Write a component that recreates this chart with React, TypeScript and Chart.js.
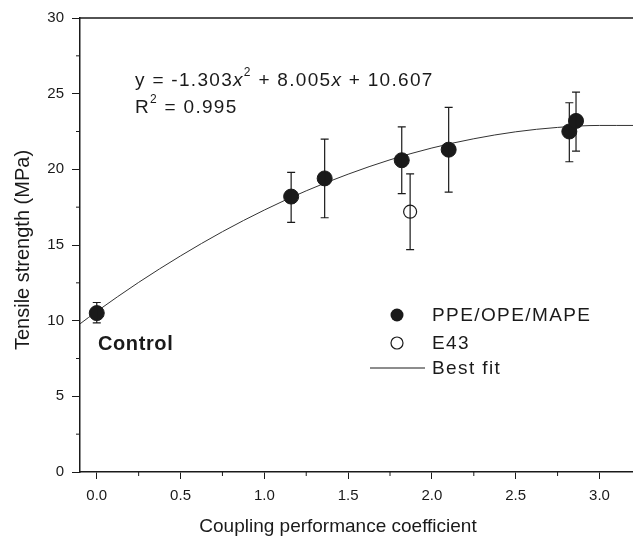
import React, { useEffect, useRef } from "react";
import { Chart, registerables } from "chart.js";
Chart.register(...registerables);

// Filled points (PPE/OPE/MAPE)
const ppeX = [0.0, 1.16, 1.36, 1.82, 2.1, 2.82, 2.86];
const ppeY = [10.5, 18.2, 19.4, 20.6, 21.3, 22.5, 23.2];
const ppeHi = [11.2, 19.8, 22.0, 22.8, 24.1, 24.4, 25.1];
const ppeLo = [9.85, 16.5, 16.8, 18.4, 18.5, 20.5, 21.2];
// Open point (E43)
const e43X = [1.87];
const e43Y = [17.2];
const e43Hi = [19.7];
const e43Lo = [14.7];
// Best fit curve
const fitX = [-0.1, 0, 0.25, 0.5, 0.75, 1.0, 1.25, 1.5, 1.75, 2.0, 2.25, 2.5, 2.75, 3.0, 3.1, 3.2];
const fitY = [9.79, 10.61, 12.53, 14.28, 15.88, 17.31, 18.58, 19.68, 20.63, 21.41, 22.02, 22.48, 22.77, 22.9, 22.9, 22.9];
const xTicks = [0, 0.5, 1.0, 1.5, 2.0, 2.5, 3.0];
const yTicks = [0, 5, 10, 15, 20, 25, 30];

const FONT = "'Liberation Sans', Arial, sans-serif";
const INK = "#1a1a1a";

const overlay = {
  id: "overlay",
  afterDatasetsDraw(chart: any) {
    const ctx = chart.ctx;
    const xs = chart.scales.x;
    const ys = chart.scales.y;
    const ca = chart.chartArea;
    ctx.save();
    // top frame line
    ctx.strokeStyle = INK;
    ctx.lineWidth = 1.5;
    ctx.beginPath();
    ctx.moveTo(ca.left, ca.top);
    ctx.lineTo(chart.width, ca.top);
    ctx.stroke();
    // minor ticks
    ctx.lineWidth = 1;
    for (let v = 0.25; v < 3.2; v += 0.5) {
      const px = xs.getPixelForValue(v);
      ctx.beginPath();
      ctx.moveTo(px, ca.bottom);
      ctx.lineTo(px, ca.bottom + 4);
      ctx.stroke();
    }
    for (let v = 2.5; v < 30; v += 5) {
      const py = ys.getPixelForValue(v);
      ctx.beginPath();
      ctx.moveTo(ca.left, py);
      ctx.lineTo(ca.left - 4, py);
      ctx.stroke();
    }
    // error bars
    const drawErr = (x: number, lo: number, hi: number) => {
      const px = xs.getPixelForValue(x);
      const pLo = ys.getPixelForValue(lo);
      const pHi = ys.getPixelForValue(hi);
      ctx.beginPath();
      ctx.moveTo(px, pLo);
      ctx.lineTo(px, pHi);
      ctx.moveTo(px - 4, pLo);
      ctx.lineTo(px + 4, pLo);
      ctx.moveTo(px - 4, pHi);
      ctx.lineTo(px + 4, pHi);
      ctx.stroke();
    };
    ctx.strokeStyle = INK;
    ctx.lineWidth = 1.2;
    ppeX.forEach((x, i) => drawErr(x, ppeLo[i], ppeHi[i]));
    e43X.forEach((x, i) => drawErr(x, e43Lo[i], e43Hi[i]));
    ctx.restore();
  },
  afterDraw(chart: any) {
    const ctx = chart.ctx;
    ctx.save();
    ctx.fillStyle = INK;
    ctx.textBaseline = "middle";
    ctx.textAlign = "left";
    // equation
    ctx.letterSpacing = "1.3px";
    let x = 135;
    const y = 81;
    const seg = (t: string, style: string, dy = 0, size = 19) => {
      ctx.font = `${style} ${size}px ${FONT}`;
      ctx.fillText(t, x, y + dy);
      x += ctx.measureText(t).width;
    };
    seg("y = -1.303", "normal");
    seg("x", "italic");
    seg("2", "normal", -8, 12);
    seg(" + 8.005", "normal");
    seg("x", "italic");
    seg(" + 10.607", "normal");
    x = 135;
    const y2 = 108;
    ctx.font = `normal 19px ${FONT}`;
    ctx.fillText("R", x, y2);
    x += ctx.measureText("R").width;
    ctx.font = `normal 12px ${FONT}`;
    ctx.fillText("2", x, y2 - 8);
    x += ctx.measureText("2").width;
    ctx.font = `normal 19px ${FONT}`;
    ctx.fillText(" = 0.995", x, y2);
    // Control label
    ctx.letterSpacing = "0.6px";
    ctx.font = `bold 20px ${FONT}`;
    ctx.fillText("Control", 98, 344);
    // legend
    ctx.letterSpacing = "1.4px";
    ctx.font = `normal 19px ${FONT}`;
    ctx.strokeStyle = INK;
    ctx.fillStyle = INK;
    ctx.beginPath();
    ctx.arc(397, 315, 6.5, 0, Math.PI * 2);
    ctx.fill();
    ctx.fillText(chart.data.datasets[0].label, 432, 316);
    ctx.beginPath();
    ctx.arc(397, 343, 6, 0, Math.PI * 2);
    ctx.fillStyle = "#fff";
    ctx.fill();
    ctx.lineWidth = 1.2;
    ctx.stroke();
    ctx.fillStyle = INK;
    ctx.fillText(chart.data.datasets[1].label, 432, 344);
    ctx.lineWidth = 1;
    ctx.beginPath();
    ctx.moveTo(370, 368);
    ctx.lineTo(425, 368);
    ctx.stroke();
    ctx.fillText(chart.data.datasets[2].label, 432, 369);
    // axis titles
    ctx.letterSpacing = "0px";
    ctx.font = `normal 19px ${FONT}`;
    ctx.textAlign = "center";
    ctx.fillText("Coupling performance coefficient", 338, 527);
    ctx.save();
    ctx.translate(23, 250);
    ctx.rotate(-Math.PI / 2);
    ctx.font = `normal 20px ${FONT}`;
    ctx.fillText("Tensile strength (MPa)", 0, 0);
    ctx.restore();
    ctx.restore();
  },
};

export default function App() {
  const ref = useRef<HTMLCanvasElement>(null);
  useEffect(() => {
    document.body.style.margin = "0";
    const chart = new Chart(ref.current!, {
      type: "scatter",
      data: {
        datasets: [
          {
            label: "PPE/OPE/MAPE",
            data: ppeX.map((x, i) => ({ x, y: ppeY[i] })),
            pointRadius: 7.5,
            pointBackgroundColor: INK,
            pointBorderColor: INK,
            order: 1,
          },
          {
            label: "E43",
            data: e43X.map((x, i) => ({ x, y: e43Y[i] })),
            pointRadius: 6.5,
            pointBackgroundColor: "#fff",
            pointBorderColor: INK,
            pointBorderWidth: 1.2,
            order: 1,
          },
          {
            label: "Best fit",
            type: "line",
            data: fitX.map((x, i) => ({ x, y: fitY[i] })),
            borderColor: "#333",
            borderWidth: 1,
            pointRadius: 0,
            cubicInterpolationMode: "monotone",
            order: 2,
          } as any,
        ],
      },
      options: {
        animation: false,
        responsive: false,
        maintainAspectRatio: false,
        layout: { autoPadding: false, padding: { top: 18, right: 0, left: 0, bottom: 0 } },
        plugins: { legend: { display: false }, tooltip: { enabled: false } },
        scales: {
          x: {
            type: "linear",
            min: -0.1,
            max: 3.2,
            afterBuildTicks: (s: any) => {
              s.ticks = xTicks.map((v) => ({ value: v }));
            },
            afterFit: (s: any) => {
              s.height = 68;
              s.paddingRight = 0;
              s.paddingLeft = 0;
            },
            ticks: {
              callback: (v: any) => Number(v).toFixed(1),
              font: { family: FONT, size: 15 },
              color: INK,
              padding: 8,
              maxRotation: 0,
            },
            grid: { drawOnChartArea: false, drawTicks: true, tickLength: 7, color: INK, lineWidth: 1 },
            border: { display: true, color: INK, width: 1.5 },
          },
          y: {
            type: "linear",
            min: 0,
            max: 30,
            afterBuildTicks: (s: any) => {
              s.ticks = yTicks.map((v) => ({ value: v }));
            },
            afterFit: (s: any) => {
              s.width = 80;
              s.paddingTop = 0;
            },
            ticks: {
              font: { family: FONT, size: 15 },
              color: INK,
              padding: 8,
            },
            grid: { drawOnChartArea: false, drawTicks: true, tickLength: 8, color: INK, lineWidth: 1 },
            border: { display: true, color: INK, width: 1.5 },
          },
        },
      },
      plugins: [overlay],
    });
    return () => chart.destroy();
  }, []);
  return (
    <div style={{ width: 633, height: 540 }}>
      <canvas ref={ref} width={633} height={540} style={{ display: "block" }} />
    </div>
  );
}
